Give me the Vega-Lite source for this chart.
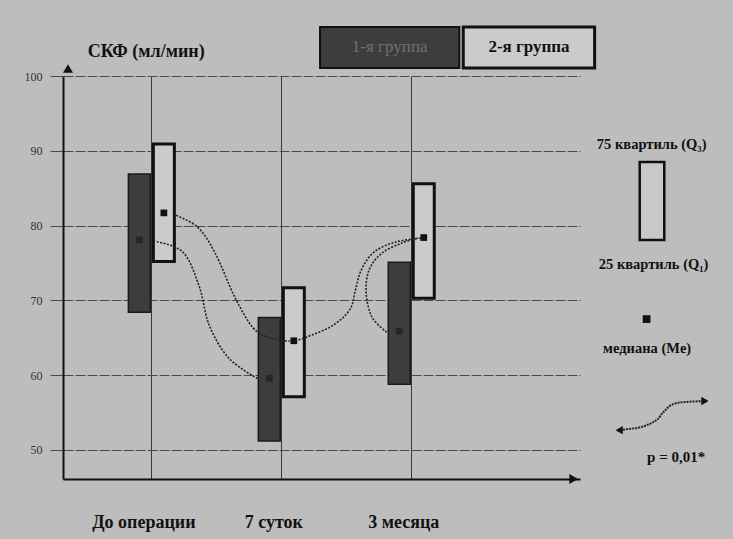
{
  "$schema": "https://vega.github.io/schema/vega-lite/v6.json",
  "width": 517,
  "height": 403,
  "autosize": {"type": "none"},
  "padding": {"left": 63, "top": 76, "right": 153, "bottom": 60},
  "background": "#bdbdbd",
  "config": {
    "view": {"stroke": null},
    "font": "Liberation Serif",
    "axisX": {
      "grid": true, "gridColor": "#3a3a3a", "gridWidth": 1,
      "ticks": false, "labelPadding": 34, "labelOffset": -8,
      "labelFont": "Liberation Serif", "labelFontSize": 18, "labelFontWeight": "bold", "labelColor": "#111",
      "domainColor": "#111", "domainWidth": 2
    },
    "axisY": {
      "grid": true, "gridColor": "#4a4a4a", "gridDash": [10, 2], "gridWidth": 1,
      "tickSize": 13, "tickColor": "#4a4a4a", "labelPadding": 8,
      "labelFont": "Liberation Serif", "labelFontSize": 12, "labelColor": "#333",
      "domainColor": "#111", "domainWidth": 2
    }
  },
  "data": {"values": [{}]},
  "datasets": {
    "boxes": [
      {"period": "До операции", "t": 1, "group": "1-я группа", "q1": 68.4, "q3": 86.9, "median": 78.1},
      {"period": "До операции", "t": 1, "group": "2-я группа", "q1": 75.2, "q3": 90.9, "median": 81.7},
      {"period": "7 суток", "t": 2, "group": "1-я группа", "q1": 51.2, "q3": 67.7, "median": 59.6},
      {"period": "7 суток", "t": 2, "group": "2-я группа", "q1": 57.1, "q3": 71.7, "median": 64.6},
      {"period": "3 месяца", "t": 3, "group": "1-я группа", "q1": 58.8, "q3": 75.1, "median": 65.9},
      {"period": "3 месяца", "t": 3, "group": "2-я группа", "q1": 70.3, "q3": 85.6, "median": 78.4}
    ],
    "curves": [
      {"c": "A", "k": 1, "t": 1.015, "v": 77.93},
      {"c": "A", "k": 2, "t": 1.242, "v": 76.46},
      {"c": "A", "k": 3, "t": 1.37, "v": 71.78},
      {"c": "A", "k": 4, "t": 1.445, "v": 66.69},
      {"c": "A", "k": 5, "t": 1.596, "v": 62.28},
      {"c": "A", "k": 6, "t": 1.823, "v": 59.47},
      {"c": "B", "k": 1, "t": 1.166, "v": 81.54},
      {"c": "B", "k": 2, "t": 1.355, "v": 79.8},
      {"c": "B", "k": 3, "t": 1.491, "v": 76.32},
      {"c": "B", "k": 4, "t": 1.642, "v": 70.44},
      {"c": "B", "k": 5, "t": 1.785, "v": 66.29},
      {"c": "B", "k": 6, "t": 1.921, "v": 64.95},
      {"c": "B", "k": 7, "t": 2.064, "v": 64.55},
      {"c": "C", "k": 1, "t": 2.109, "v": 64.55},
      {"c": "C", "k": 2, "t": 2.374, "v": 66.43},
      {"c": "C", "k": 3, "t": 2.525, "v": 68.7},
      {"c": "C", "k": 4, "t": 2.57, "v": 71.37},
      {"c": "C", "k": 5, "t": 2.615, "v": 74.05},
      {"c": "C", "k": 6, "t": 2.713, "v": 76.46},
      {"c": "C", "k": 7, "t": 2.879, "v": 77.8},
      {"c": "C", "k": 8, "t": 3.075, "v": 78.33},
      {"c": "D", "k": 1, "t": 2.811, "v": 65.76},
      {"c": "D", "k": 2, "t": 2.698, "v": 67.76},
      {"c": "D", "k": 3, "t": 2.653, "v": 70.97},
      {"c": "D", "k": 4, "t": 2.675, "v": 74.05},
      {"c": "D", "k": 5, "t": 2.774, "v": 76.32},
      {"c": "D", "k": 6, "t": 2.925, "v": 77.66},
      {"c": "D", "k": 7, "t": 3.053, "v": 78.33}
    ],
    "keyCurve": [
      {"k": 1, "t": 4.585, "v": 52.65},
      {"k": 2, "t": 4.766, "v": 53.05},
      {"k": 3, "t": 4.887, "v": 53.99},
      {"k": 4, "t": 4.94, "v": 55.06},
      {"k": 5, "t": 5.038, "v": 56.26},
      {"k": 6, "t": 5.279, "v": 56.53}
    ]
  },
  "layer": [
    {
      "data": {"name": "boxes"},
      "transform": [{"filter": "datum.group == '1-я группа'"}],
      "mark": {"type": "bar", "width": 22, "xOffset": -12, "fill": "#3d3d3d", "stroke": "#1a1a1a", "strokeWidth": 1.5},
      "encoding": {
        "x": {
          "field": "t", "type": "quantitative", "title": null,
          "scale": {"domain": [0.3585, 4.26], "nice": false, "zero": false},
          "axis": {
            "values": [1, 2, 3],
            "labelExpr": "datum.value == 1 ? 'До операции' : datum.value == 2 ? '7 суток' : '3 месяца'"
          }
        },
        "y": {
          "field": "q1", "type": "quantitative", "title": null,
          "scale": {"domain": [46.12, 100], "nice": false, "zero": false},
          "axis": {"values": [50, 60, 70, 80, 90, 100]}
        },
        "y2": {"field": "q3"}
      }
    },
    {
      "data": {"name": "boxes"},
      "transform": [{"filter": "datum.group == '2-я группа'"}],
      "mark": {"type": "bar", "width": 21, "xOffset": 12.5, "fill": "#cbcbcb", "stroke": "#111", "strokeWidth": 3},
      "encoding": {
        "x": {"field": "t", "type": "quantitative", "title": null},
        "y": {"field": "q1", "type": "quantitative", "title": null},
        "y2": {"field": "q3"}
      }
    },
    {
      "data": {"name": "curves"},
      "mark": {"type": "line", "interpolate": "cardinal", "strokeDash": [2, 1.5], "strokeWidth": 1.6, "color": "#222"},
      "encoding": {
        "x": {"field": "t", "type": "quantitative", "title": null},
        "y": {"field": "v", "type": "quantitative", "title": null},
        "detail": {"field": "c"},
        "order": {"field": "k"}
      }
    },
    {
      "data": {"name": "boxes"},
      "transform": [{"filter": "datum.group == '2-я группа'"}],
      "mark": {"type": "point", "shape": "square", "filled": true, "size": 45, "xOffset": 12.5, "color": "#111", "opacity": 1},
      "encoding": {
        "x": {"field": "t", "type": "quantitative", "title": null},
        "y": {"field": "median", "type": "quantitative", "title": null}
      }
    },
    {
      "data": {"name": "boxes"},
      "transform": [{"filter": "datum.group == '1-я группа'"}],
      "mark": {"type": "point", "shape": "square", "filled": true, "size": 45, "xOffset": -12, "color": "#262626", "opacity": 1},
      "encoding": {
        "x": {"field": "t", "type": "quantitative", "title": null},
        "y": {"field": "median", "type": "quantitative", "title": null}
      }
    },
    {
      "mark": {"type": "point", "shape": "triangle-up", "filled": true, "size": 100, "color": "#111", "opacity": 1},
      "encoding": {
        "x": {"datum": 0.3585, "type": "quantitative", "title": null},
        "y": {"datum": 101.0, "type": "quantitative", "title": null}
      }
    },
    {
      "mark": {"type": "point", "shape": "triangle-right", "filled": true, "size": 100, "color": "#111", "opacity": 1},
      "encoding": {
        "x": {"datum": 4.25, "type": "quantitative", "title": null},
        "y": {"datum": 46.12, "type": "quantitative", "title": null}
      }
    },
    {
      "mark": {"type": "text", "text": "СКФ (мл/мин)", "fontSize": 18, "fontWeight": "bold", "color": "#111", "align": "center", "baseline": "middle"},
      "encoding": {
        "x": {"datum": 0.96, "type": "quantitative", "title": null},
        "y": {"datum": 103.2, "type": "quantitative", "title": null}
      }
    },
    {
      "mark": {"type": "rect", "fill": "#3d3d3d", "stroke": "#111", "strokeWidth": 2},
      "encoding": {
        "x": {"datum": 2.298, "type": "quantitative", "title": null},
        "x2": {"datum": 3.37},
        "y": {"datum": 106.55, "type": "quantitative", "title": null},
        "y2": {"datum": 101.07}
      }
    },
    {
      "mark": {"type": "rect", "fill": "#cbcbcb", "stroke": "#111", "strokeWidth": 3},
      "encoding": {
        "x": {"datum": 3.4, "type": "quantitative", "title": null},
        "x2": {"datum": 4.411},
        "y": {"datum": 106.55, "type": "quantitative", "title": null},
        "y2": {"datum": 101.07}
      }
    },
    {
      "mark": {"type": "text", "text": "1-я группа", "fontSize": 17, "color": "#707070", "align": "center", "baseline": "middle"},
      "encoding": {
        "x": {"datum": 2.834, "type": "quantitative", "title": null},
        "y": {"datum": 103.88, "type": "quantitative", "title": null}
      }
    },
    {
      "mark": {"type": "text", "text": "2-я группа", "fontSize": 17, "fontWeight": "bold", "color": "#111", "align": "center", "baseline": "middle"},
      "encoding": {
        "x": {"datum": 3.906, "type": "quantitative", "title": null},
        "y": {"datum": 103.88, "type": "quantitative", "title": null}
      }
    },
    {
      "mark": {"type": "text", "text": "75 квартиль  (Q₃)", "fontSize": 14.5, "fontWeight": "bold", "color": "#111", "align": "center", "baseline": "middle"},
      "encoding": {
        "x": {"datum": 4.85, "type": "quantitative", "title": null},
        "y": {"datum": 90.77, "type": "quantitative", "title": null}
      }
    },
    {
      "mark": {"type": "rect", "fill": "#c8c8c8", "stroke": "#111", "strokeWidth": 2.5},
      "encoding": {
        "x": {"datum": 4.758, "type": "quantitative", "title": null},
        "x2": {"datum": 4.947},
        "y": {"datum": 88.5, "type": "quantitative", "title": null},
        "y2": {"datum": 78.06}
      }
    },
    {
      "mark": {"type": "text", "text": "25 квартиль (Q₁)", "fontSize": 14.5, "fontWeight": "bold", "color": "#111", "align": "center", "baseline": "middle"},
      "encoding": {
        "x": {"datum": 4.865, "type": "quantitative", "title": null},
        "y": {"datum": 74.72, "type": "quantitative", "title": null}
      }
    },
    {
      "mark": {"type": "point", "shape": "square", "filled": true, "size": 60, "color": "#111", "opacity": 1},
      "encoding": {
        "x": {"datum": 4.811, "type": "quantitative", "title": null},
        "y": {"datum": 67.5, "type": "quantitative", "title": null}
      }
    },
    {
      "mark": {"type": "text", "text": "медиана (Me)", "fontSize": 14.5, "fontWeight": "bold", "color": "#111", "align": "center", "baseline": "middle"},
      "encoding": {
        "x": {"datum": 4.815, "type": "quantitative", "title": null},
        "y": {"datum": 63.48, "type": "quantitative", "title": null}
      }
    },
    {
      "data": {"name": "keyCurve"},
      "mark": {"type": "line", "interpolate": "cardinal", "strokeDash": [2, 1], "strokeWidth": 2, "color": "#222"},
      "encoding": {
        "x": {"field": "t", "type": "quantitative", "title": null},
        "y": {"field": "v", "type": "quantitative", "title": null},
        "order": {"field": "k"}
      }
    },
    {
      "mark": {"type": "point", "shape": "triangle-left", "filled": true, "size": 70, "color": "#111", "opacity": 1},
      "encoding": {
        "x": {"datum": 4.6, "type": "quantitative", "title": null},
        "y": {"datum": 52.65, "type": "quantitative", "title": null}
      }
    },
    {
      "mark": {"type": "point", "shape": "triangle-right", "filled": true, "size": 70, "color": "#111", "opacity": 1},
      "encoding": {
        "x": {"datum": 5.26, "type": "quantitative", "title": null},
        "y": {"datum": 56.55, "type": "quantitative", "title": null}
      }
    },
    {
      "mark": {"type": "text", "text": "p = 0,01*", "fontSize": 15, "fontWeight": "bold", "color": "#111", "align": "center", "baseline": "middle"},
      "encoding": {
        "x": {"datum": 5.038, "type": "quantitative", "title": null},
        "y": {"datum": 49.04, "type": "quantitative", "title": null}
      }
    }
  ]
}
